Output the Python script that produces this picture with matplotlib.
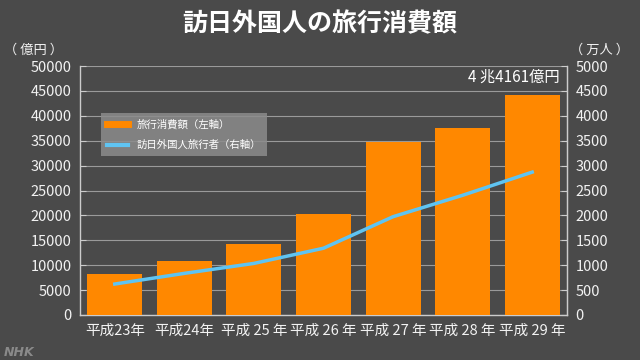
import matplotlib
matplotlib.use("Agg")
import matplotlib.pyplot as plt
import numpy as np
from matplotlib.lines import Line2D

plt.rcParams['font.family'] = ['Noto Sans CJK JP', 'DejaVu Sans']

categories = ["平成23年", "平成24年", "平成 25 年", "平成 26 年", "平成 27 年", "平成 28 年", "平成 29 年"]
spending = [8135, 10846, 14167, 20278, 34771, 37476, 44161]   # 億円
visitors = [622, 836, 1036, 1341, 1974, 2404, 2869]           # 万人
left_ticks = list(range(0, 50001, 5000))
right_ticks = list(range(0, 5001, 500))
legend_labels = ['旅行消費額（左軸）', '訪日外国人旅行者（右軸）']

bg = '#4a4a4a'
fig = plt.figure(figsize=(6.4, 3.6), dpi=100, facecolor=bg)
ax = fig.add_axes([80/640, 1-315/360, 487/640, 249/360])
ax.set_facecolor(bg)
x = np.arange(len(categories))
ax.bar(x, spending, width=0.79, color='#ff8800', zorder=3)
ax.set_xlim(-0.5, len(categories) - 0.5)
ax.set_ylim(0, 50000)
ax.set_yticks(left_ticks)
ax.set_yticklabels([str(t) for t in left_ticks])
ax.set_xticks(x)
ax.set_xticklabels(categories)
ax.grid(axis='y', color='#9a9a9a', linewidth=0.8, zorder=0)
ax.tick_params(axis='x', colors='#f2f2f2', labelsize=10.5, length=0, pad=6)
ax.tick_params(axis='y', colors='#f2f2f2', labelsize=10.5, length=4, color='#cccccc', direction='in', pad=6)
ax.spines['top'].set_visible(False)
for s in ['left', 'right', 'bottom']:
    ax.spines[s].set_color('#cccccc')
    ax.spines[s].set_linewidth(1)

ax2 = ax.twinx()
ax2.plot(x, visitors, color='#5fc4f2', linewidth=2.5, zorder=4)
ax2.set_ylim(0, 5000)
ax2.set_yticks(right_ticks)
ax2.set_yticklabels([str(t) for t in right_ticks])
ax2.tick_params(axis='y', colors='#f2f2f2', labelsize=10.5, length=4, color='#cccccc', direction='in', pad=6)
for s in ['top', 'left', 'bottom']:
    ax2.spines[s].set_visible(False)
ax2.spines['right'].set_color('#cccccc')

handles = [Line2D([0], [0], color='#ff8800', lw=5), Line2D([0], [0], color='#5fc4f2', lw=3)]
leg = ax2.legend(handles, legend_labels, loc='upper left', bbox_to_anchor=(21/487, 1-47/249),
                 frameon=True, fontsize=7.5, handlelength=2.0, labelspacing=1.0,
                 borderpad=0.6, handletextpad=0.8, fancybox=False, borderaxespad=0)
leg.get_frame().set_facecolor('#8c8c8c')
leg.get_frame().set_alpha(0.85)
leg.get_frame().set_edgecolor('none')
for t in leg.get_texts():
    t.set_color('white')

fig.text(0.5, 1-24/360, '訪日外国人の旅行消費額', ha='center', va='center', color='white',
         fontsize=18, fontweight='bold')
fig.text(33/640, 1-50/360, '（ 億円 ）', ha='center', va='center', color='#f2f2f2', fontsize=9.5)
fig.text(600/640, 1-50/360, '（ 万人 ）', ha='center', va='center', color='#f2f2f2', fontsize=9.5)
fig.text(560/640, 1-77/360, '4 兆4161億円', ha='right', va='center', color='white', fontsize=11)
fig.text(4/640, 1-352/360, 'NHK', ha='left', va='center', color='#8a8a8a', fontsize=9,
         fontweight='bold', style='italic', family='DejaVu Sans')

fig.savefig('out.png', dpi=100, facecolor=bg)
